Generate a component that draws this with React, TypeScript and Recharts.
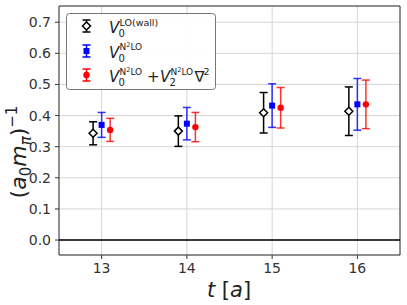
import React from 'react';
import {
  ScatterChart,
  Scatter,
  XAxis,
  YAxis,
  CartesianGrid,
  ErrorBar,
  ReferenceLine,
  ReferenceArea,
  Customized,
} from 'recharts';

// time slices t [a]
const tValues = [13, 14, 15, 16];

// V0 LO(wall)
const wallY = [0.343, 0.35, 0.409, 0.414];
const wallErr = [0.037, 0.049, 0.065, 0.078];

// V0 N2LO
const n2loY = [0.37, 0.374, 0.432, 0.436];
const n2loErr = [0.04, 0.052, 0.07, 0.083];

// V0 N2LO + V2 N2LO nabla^2
const gradY = [0.354, 0.363, 0.425, 0.436];
const gradErr = [0.037, 0.047, 0.065, 0.078];

const yTicks = [0, 0.1, 0.2, 0.3, 0.4, 0.5, 0.6, 0.7];

const DODGE = 0.1;
const FONT = "'DejaVu Sans', sans-serif";
const BLUE = '#0000ff';
const RED = '#ff0000';

const toPoints = (ys: number[], errs: number[], shift: number) =>
  tValues.map((t, i) => ({ x: t + shift, y: ys[i], err: errs[i] }));

const wallData = toPoints(wallY, wallErr, -DODGE);
const n2loData = toPoints(n2loY, n2loErr, 0);
const gradData = toPoints(gradY, gradErr, DODGE);

const Diamond = ({ cx, cy }: any) => (
  <polygon
    points={`${cx},${cy - 4} ${cx + 4},${cy} ${cx},${cy + 4} ${cx - 4},${cy}`}
    fill="#fff"
    stroke="#000"
    strokeWidth={1.5}
  />
);
const Square = ({ cx, cy }: any) => <rect x={cx - 3} y={cy - 3} width={6} height={6} fill={BLUE} />;
const Dot = ({ cx, cy }: any) => <circle cx={cx} cy={cy} r={3.2} fill={RED} />;

// small error-bar glyph for the legend
const LegendGlyph = ({ x, y, color, children }: any) => (
  <g>
    <line x1={x} y1={y - 6} x2={x} y2={y + 6} stroke={color} strokeWidth={1.5} />
    <line x1={x - 4} y1={y - 6} x2={x + 4} y2={y - 6} stroke={color} strokeWidth={1.5} />
    <line x1={x - 4} y1={y + 6} x2={x + 4} y2={y + 6} stroke={color} strokeWidth={1.5} />
    {children}
  </g>
);

const SUP = 9;

// "N²LO" superscript
const N2LO = ({ x, y }: any) => (
  <text x={x} y={y} fontSize={SUP} fontFamily={FONT} fill="#222">
    N<tspan fontSize={6.5} dy={-3}>2</tspan>
    <tspan dy={3}>LO</tspan>
  </text>
);

const LegendBox = () => {
  const mx = 86.5;
  const tx = 109;
  return (
    <g>
      <rect x={66.5} y={13.5} width={149} height={76} rx={3} fill="#fff" fillOpacity={0.9} stroke="#777" />
      <LegendGlyph x={mx} y={26} color="#000">
        <polygon points={`${mx},${22} ${mx + 4},${26} ${mx},${30} ${mx - 4},${26}`} fill="#fff" stroke="#000" strokeWidth={1.5} />
      </LegendGlyph>
      <LegendGlyph x={mx} y={51} color={BLUE}>
        <rect x={mx - 3} y={48} width={6} height={6} fill={BLUE} />
      </LegendGlyph>
      <LegendGlyph x={mx} y={75} color={RED}>
        <circle cx={mx} cy={75} r={3.2} fill={RED} />
      </LegendGlyph>

      <text x={tx} y={33} fontSize={15} fontStyle="italic" fontFamily={FONT} fill="#222">V</text>
      <text x={118.5} y={37} fontSize={10} fontFamily={FONT} fill="#222">0</text>
      <text x={119.5} y={25.5} fontSize={9.5} fontFamily={FONT} fill="#222">LO(wall)</text>

      <text x={tx} y={57.5} fontSize={15} fontStyle="italic" fontFamily={FONT} fill="#222">V</text>
      <text x={118.5} y={61.5} fontSize={10} fontFamily={FONT} fill="#222">0</text>
      <N2LO x={119.5} y={50} />

      <text x={tx} y={82} fontSize={15} fontStyle="italic" fontFamily={FONT} fill="#222">V</text>
      <text x={118.5} y={86} fontSize={10} fontFamily={FONT} fill="#222">0</text>
      <N2LO x={119.5} y={74.5} />
      <text x={147} y={82} fontSize={15} fontFamily={FONT} fill="#222">+</text>
      <text x={160} y={82} fontSize={15} fontStyle="italic" fontFamily={FONT} fill="#222">V</text>
      <text x={169.5} y={86} fontSize={10} fontFamily={FONT} fill="#222">2</text>
      <N2LO x={170.5} y={74.5} />
      <text x={194.5} y={82} fontSize={15} fontFamily={FONT} fill="#222">∇</text>
      <text x={203.5} y={74.5} fontSize={9.5} fontFamily={FONT} fill="#222">2</text>
    </g>
  );
};

const AxisTitles = () => (
  <g fill="#222" fontFamily={FONT}>
    <text x={229} y={297} fontSize={21} textAnchor="middle">
      <tspan fontStyle="italic">t</tspan> [<tspan fontStyle="italic">a</tspan>]
    </text>
    <text x={26} y={152} fontSize={22} textAnchor="middle" transform="rotate(-90 26 152)">
      (<tspan fontStyle="italic">a</tspan>
      <tspan fontSize={15} dy={5}>0</tspan>
      <tspan fontStyle="italic" dy={-5}>m</tspan>
      <tspan fontSize={15} fontStyle="italic" dy={5}>π</tspan>
      <tspan dy={-5}>)</tspan>
      <tspan fontSize={15} dy={-9}>−1</tspan>
    </text>
  </g>
);

export default function App() {
  return (
    <div style={{ position: 'absolute', left: 0, top: 0, width: 407, height: 305, background: '#fff' }}>
      <ScatterChart width={407} height={305} margin={{ top: 6, right: 7, bottom: 0, left: 0 }}>
        <CartesianGrid stroke="#d6d6d6" strokeWidth={1} />
        <XAxis
          type="number"
          dataKey="x"
          domain={[12.5, 16.5]}
          ticks={tValues}
          height={50}
          axisLine={false}
          tickLine={{ stroke: '#333' }}
          tickSize={4}
          tickMargin={4}
          tick={{ fontSize: 14, fill: '#333', fontFamily: FONT }}
          allowDataOverflow
        />
        <YAxis
          type="number"
          dataKey="y"
          domain={[-0.048, 0.752]}
          ticks={yTicks}
          width={59}
          axisLine={false}
          tickLine={{ stroke: '#333' }}
          tickSize={4}
          tickMargin={4}
          tickFormatter={(v: number) => v.toFixed(1)}
          tick={{ fontSize: 14, fill: '#333', fontFamily: FONT }}
          allowDataOverflow
        />
        <ReferenceLine y={0} stroke="#000" strokeWidth={1.5} />
        <ReferenceArea x1={12.5} x2={16.5} y1={-0.048} y2={0.752} fill="none" stroke="#333" strokeWidth={1} />
        <Scatter data={wallData} fill="#000" shape={Diamond} isAnimationActive={false}>
          <ErrorBar dataKey="err" direction="y" width={4} stroke="#000" strokeWidth={1.5} />
        </Scatter>
        <Scatter data={n2loData} fill={BLUE} shape={Square} isAnimationActive={false}>
          <ErrorBar dataKey="err" direction="y" width={4} stroke={BLUE} strokeOpacity={0.8} strokeWidth={1.5} />
        </Scatter>
        <Scatter data={gradData} fill={RED} shape={Dot} isAnimationActive={false}>
          <ErrorBar dataKey="err" direction="y" width={4} stroke={RED} strokeOpacity={0.8} strokeWidth={1.5} />
        </Scatter>
        <Customized component={LegendBox} />
        <Customized component={AxisTitles} />
      </ScatterChart>
    </div>
  );
}
